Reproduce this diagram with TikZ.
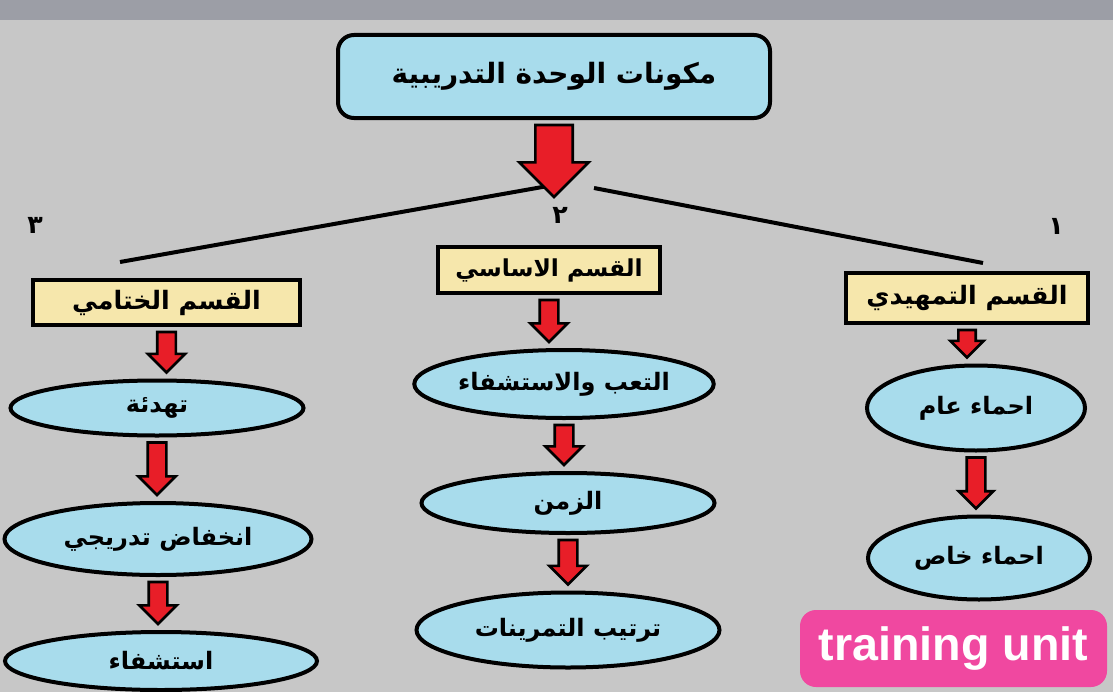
\documentclass[tikz,border=0pt]{standalone}
\usepackage{fontspec}
\setmainfont{Liberation Sans}
\newfontfamily\arabicfont[Script=Arabic]{DejaVu Sans}
\TeXXeTstate=1
\usetikzlibrary{shapes.geometric,calc}

\definecolor{bggray}{RGB}{199,199,199}
\definecolor{stripgray}{RGB}{156,158,166}
\definecolor{skyfill}{RGB}{168,220,236}
\definecolor{sandfill}{RGB}{246,231,172}
\definecolor{arrowred}{RGB}{232,30,40}
\definecolor{pinkfill}{RGB}{240,72,160}

\tikzset{every picture/.style={line width=0.75pt}}
\tikzset{
	titlebox/.style={draw, line width=3pt, rounded corners=12pt, fill=skyfill, inner sep=0pt, font=\arabicfont\bfseries\fontsize{21}{25}\selectfont},
	partbox/.style={draw, line width=3pt, fill=sandfill, inner sep=0pt, font=\arabicfont\bfseries\fontsize{19}{23}\selectfont},
	stepoval/.style={ellipse, draw, line width=3pt, fill=skyfill, inner sep=0pt, font=\arabicfont\bfseries\fontsize{18}{22}\selectfont},
	numlabel/.style={inner sep=0pt, font=\arabicfont\bfseries\fontsize{19}{22}\selectfont},
	tagbox/.style={fill=pinkfill, rounded corners=12pt, text=white, inner sep=0pt, font=\bfseries\fontsize{35}{40}\selectfont},
	blockarrow/.style={draw, line width=2pt, fill=arrowred, line join=miter},
	forkline/.style={line width=3pt},
}

% block arrow from the foot of one node to the head of the next
\newcommand{\blockarrow}[4]{%
	\path[blockarrow] let \p1=($(#1.south)+(0,5)$), \p2=($(#2.north)+(0,-6)$) in
		(\x1-#3,\y1) -- (\x1+#3,\y1) -- (\x1+#3,\y2-#4) -- (\x1+#4,\y2-#4) -- (\x1,\y2) -- (\x1-#4,\y2-#4) -- (\x1-#3,\y2-#4) -- cycle;}

\begin{document}
\begin{tikzpicture}[x=0.75pt,y=0.75pt,yscale=-1,xscale=1]
		%Shape: Background
		\fill[bggray] (0,0) rectangle (1113,692);
		\fill[stripgray] (0,0) rectangle (1113,20);
		\useasboundingbox (0,0) rectangle (1113,692);

		%Shape: Rounded Rect [title]
		\node[titlebox, minimum width=324pt, minimum height=62.25pt] (title) at (554,76.5) {\beginR مكونات الوحدة التدريبية\endR};

		%Straight Lines [fork]
		\coordinate (forktip) at (560,203);
		\coordinate (lstart) at (548,186);
		\coordinate (rstart) at (594,188);
		\coordinate (lend) at (120,262);
		\coordinate (rend) at (983,263);
		\draw[forkline] (lstart) -- (lend);
		\draw[forkline] (rstart) -- (rend);
		\blockarrow{title}{forktip}{14pt}{26pt}

		% Text Node
		\node[numlabel] (num3) at (35,225) {٣};
		\node[numlabel] (num2) at (560,215) {٢};
		\node[numlabel] (num1) at (1056,226) {١};

		%Shape: Rectangle [parts]
		\node[partbox, minimum width=200.25pt, minimum height=33.75pt] (closing) at (166.5,302.5) {\beginR القسم الختامي\endR};
		\node[partbox, minimum width=166.5pt, minimum height=34.5pt, font=\arabicfont\bfseries\fontsize{17.5}{21}\selectfont] (mainpart) at (549,270) {\beginR القسم الاساسي\endR};
		\node[partbox, minimum width=181.5pt, minimum height=37.5pt] (intro) at (967,298) {\beginR القسم التمهيدي\endR};

		%Shape: Ellipse [closing part]
		\node[stepoval, minimum width=219.75pt, minimum height=41.25pt] (calm) at (157,408) {\beginR تهدئة\endR};
		\node[stepoval, minimum width=230.25pt, minimum height=54pt] (taper) at (158,539) {\beginR انخفاض تدريجي\endR};
		\node[stepoval, minimum width=234pt, minimum height=43.5pt] (recover) at (161,661) {\beginR استشفاء\endR};

		%Shape: Ellipse [main part]
		\node[stepoval, minimum width=223.5pt, minimum height=51pt] (fatigue) at (564,384) {\beginR التعب والاستشفاء\endR};
		\node[stepoval, minimum width=219.75pt, minimum height=45pt] (timing) at (568,503) {\beginR الزمن\endR};
		\node[stepoval, minimum width=227.25pt, minimum height=56.25pt] (order) at (568,630) {\beginR ترتيب التمرينات\endR};

		%Shape: Ellipse [intro part]
		\node[stepoval, minimum width=163.5pt, minimum height=63.75pt] (general) at (976,408) {\beginR احماء عام\endR};
		\node[stepoval, minimum width=166.5pt, minimum height=62.25pt] (special) at (979,558) {\beginR احماء خاص\endR};

		%Block Arrows
		\blockarrow{closing}{calm}{7pt}{14pt}
		\blockarrow{calm}{taper}{7pt}{14pt}
		\blockarrow{taper}{recover}{7pt}{14pt}
		\blockarrow{mainpart}{fatigue}{7pt}{14pt}
		\blockarrow{fatigue}{timing}{7pt}{14pt}
		\blockarrow{timing}{order}{7pt}{14pt}
		\blockarrow{intro}{general}{6.5pt}{12.5pt}
		\blockarrow{general}{special}{7pt}{13pt}

		%Shape: Rounded Rect [tag]
		\node[tagbox, minimum width=230.25pt, minimum height=57.75pt] (tag) at (953.5,648.5) {training unit};

\end{tikzpicture}
\end{document}
